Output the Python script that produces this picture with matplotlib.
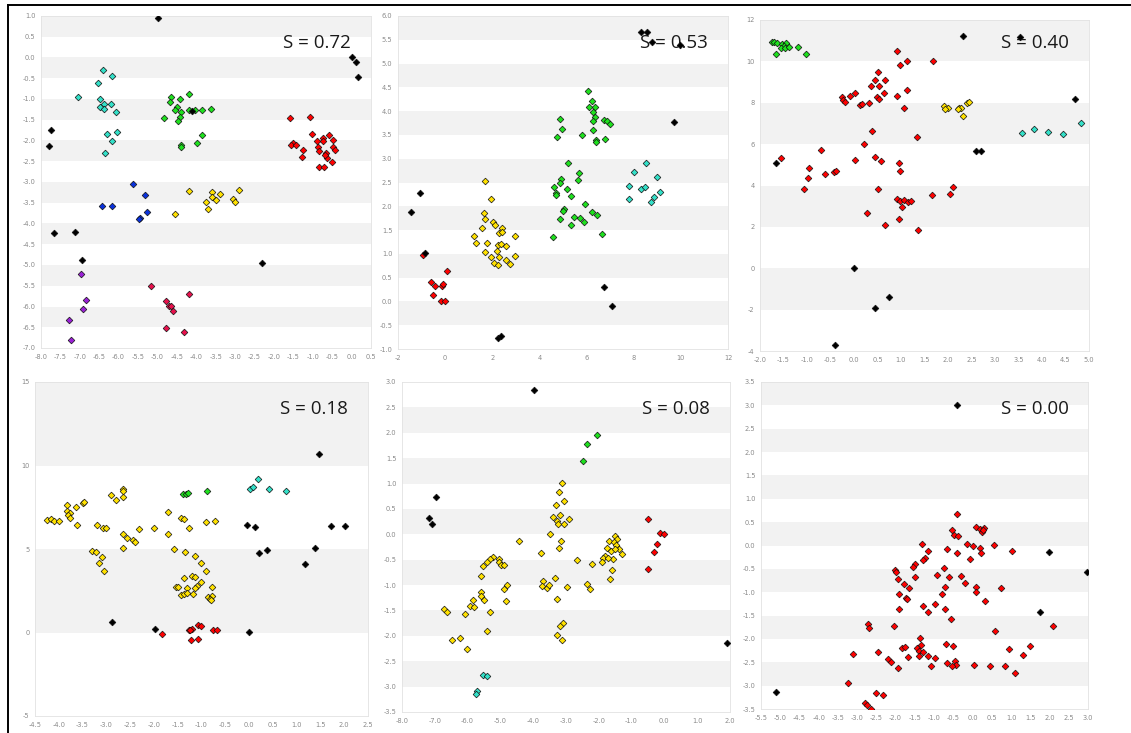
import matplotlib
matplotlib.use("Agg")
import matplotlib.pyplot as plt
from matplotlib.lines import Line2D
from matplotlib.ticker import FormatStrFormatter
import numpy as np

plt.rcParams['axes.unicode_minus'] = False

# couleurs des groupes
RED = '#ff0000'
GREEN = '#1ee01e'
CYAN = '#33e0c8'
YELLOW = '#ffe100'
BLUE = '#0a32dc'
PURPLE = '#9a20d6'
CRIMSON = '#e8104c'
BLACK = '#000000'

# ---- Panneau 1 : S = 0.72
p1_cyan = [(-6.41, -0.30), (-6.18, -0.44), (-6.52, -0.62), (-7.04, -0.95), (-6.49, -1.00),
           (-6.20, -1.11), (-6.39, -1.13), (-6.49, -1.19), (-6.39, -1.23), (-6.07, -1.31),
           (-6.03, -1.80), (-6.30, -1.84), (-6.16, -2.02), (-6.35, -2.30)]
p1_green = [(-4.18, -0.87), (-4.65, -0.96), (-4.43, -1.01), (-4.69, -1.07), (-4.49, -1.19),
            (-4.54, -1.27), (-4.40, -1.32), (-4.19, -1.27), (-4.04, -1.27), (-3.86, -1.27),
            (-3.62, -1.24), (-4.84, -1.45), (-4.42, -1.44), (-4.47, -1.52), (-3.85, -1.87),
            (-3.99, -2.05), (-4.39, -2.11), (-4.39, -2.15)]
p1_red = [(-1.58, -1.45), (-1.07, -1.44), (-1.01, -1.85), (-1.51, -2.06), (-1.55, -2.12),
          (-1.44, -2.11), (-1.26, -2.22), (-1.28, -2.39), (-0.89, -2.02), (-0.87, -2.15),
          (-0.83, -2.25), (-0.73, -1.93), (-0.73, -2.01), (-0.57, -1.87), (-0.47, -1.99),
          (-0.65, -2.30), (-0.63, -2.42), (-0.47, -2.16), (-0.43, -2.22), (-0.51, -2.52),
          (-0.85, -2.65), (-0.72, -2.63), (-0.69, -2.36)]
p1_blue = [(-5.62, -3.05), (-5.32, -3.32), (-6.44, -3.59), (-6.16, -3.58), (-5.28, -3.73),
           (-5.44, -3.86), (-5.48, -3.90)]
p1_yellow = [(-4.18, -3.21), (-2.89, -3.20), (-3.59, -3.25), (-3.40, -3.28), (-3.60, -3.37),
             (-3.50, -3.43), (-3.74, -3.48), (-3.05, -3.41), (-3.00, -3.49), (-3.71, -3.65),
             (-4.54, -3.76)]
p1_purple = [(-6.98, -5.22), (-6.85, -5.84), (-6.91, -6.05), (-7.27, -6.32), (-7.23, -6.81)]
p1_crimson = [(-5.17, -5.51), (-4.18, -5.70), (-4.79, -5.87), (-4.71, -5.99), (-4.64, -5.99),
              (-4.60, -6.12), (-4.78, -6.53), (-4.31, -6.62)]
p1_black = [(-4.98, 0.96), (0.01, 0.0), (0.11, -0.12), (0.16, -0.46), (-7.73, -1.75),
            (-7.79, -2.14), (-7.66, -4.22), (-7.13, -4.20), (-6.95, -4.88), (-2.32, -4.96),
            (-4.12, -1.29)]

# ---- Panneau 2 : S = 0.53
p2_red = [(-0.94, 0.98), (0.09, 0.63), (-0.59, 0.40), (-0.42, 0.32), (-0.15, 0.33),
          (-0.07, 0.36), (-0.53, 0.13), (-0.17, 0.01), (0.00, 0.00)]
p2_yellow = [(1.67, 2.54), (1.94, 2.16), (1.66, 1.85), (1.67, 1.74), (2.05, 1.68), (2.13, 1.60),
             (1.56, 1.55), (2.43, 1.55), (2.29, 1.44), (2.43, 1.46), (1.23, 1.37), (2.95, 1.37),
             (1.30, 1.22), (1.78, 1.23), (2.23, 1.19), (2.37, 1.21), (2.59, 1.16), (2.18, 1.07),
             (1.67, 1.03), (1.94, 0.93), (2.28, 0.94), (2.95, 0.95), (2.57, 0.87), (2.09, 0.80),
             (2.26, 0.77), (2.76, 0.78)]
p2_green = [(6.06, 4.42), (6.24, 4.22), (6.09, 4.08), (6.34, 4.08), (6.28, 3.98), (6.34, 3.88),
            (6.27, 3.79), (4.87, 3.83), (6.75, 3.81), (6.88, 3.80), (6.98, 3.72), (4.97, 3.62),
            (6.26, 3.61), (5.79, 3.49), (4.73, 3.46), (6.78, 3.41), (6.38, 3.39), (6.42, 3.35),
            (5.20, 2.90), (5.68, 2.69), (4.92, 2.57), (4.89, 2.50), (5.63, 2.55), (4.63, 2.41),
            (5.17, 2.37), (4.70, 2.27), (4.72, 2.24), (5.34, 2.22), (5.93, 2.05), (5.03, 1.94),
            (5.01, 1.91), (6.24, 1.89), (6.45, 1.81), (5.47, 1.77), (5.72, 1.75), (4.89, 1.73),
            (5.87, 1.66), (5.35, 1.61), (6.64, 1.41), (4.56, 1.35)]
p2_cyan = [(8.51, 2.92), (8.01, 2.73), (8.97, 2.62), (7.82, 2.43), (8.33, 2.36), (8.49, 2.41),
           (9.11, 2.29), (7.82, 2.16), (8.85, 2.19), (8.74, 2.10)]
p2_black = [(8.30, 5.66), (8.55, 5.66), (8.76, 5.46), (9.96, 5.39), (-1.07, 2.28), (-1.46, 1.87),
            (-0.87, 1.02), (9.70, 3.78), (6.74, 0.30), (7.09, -0.09), (2.26, -0.76), (2.37, -0.73)]

# ---- Panneau 3 : S = 0.40
p3_green = [(-1.75, 10.95), (-1.70, 10.92), (-1.63, 10.90), (-1.54, 10.84), (-1.45, 10.87),
            (-1.49, 10.76), (-1.56, 10.66), (-1.47, 10.65), (-1.38, 10.68), (-1.19, 10.71),
            (-1.65, 10.35), (-1.02, 10.35)]
p3_red = [(0.91, 10.50), (0.98, 9.82), (1.13, 10.0), (1.68, 10.03), (0.52, 9.50), (0.45, 9.08),
          (0.67, 9.08), (0.37, 8.81), (0.53, 8.81), (0.64, 8.47), (1.13, 8.61), (0.92, 8.31),
          (-0.25, 8.29), (-0.09, 8.34), (0.02, 8.45), (-0.23, 8.13), (-0.19, 8.02), (0.48, 8.29),
          (0.54, 8.16), (0.32, 7.98), (0.13, 7.89), (0.16, 7.95), (1.07, 7.74), (0.39, 6.63),
          (1.33, 6.35), (0.21, 6.00), (-0.70, 5.74), (-1.56, 5.31), (0.44, 5.39), (0.03, 5.23),
          (0.57, 5.19), (0.96, 5.11), (-0.95, 4.87), (-0.43, 4.66), (-0.39, 4.69), (-0.62, 4.58),
          (0.98, 4.69), (-0.97, 4.34), (-1.06, 3.85), (0.52, 3.84), (2.10, 3.94), (2.04, 3.61),
          (1.65, 3.56), (0.92, 3.35), (0.98, 3.23), (1.07, 3.32), (1.15, 3.18), (1.21, 3.27),
          (1.03, 2.97), (0.27, 2.65), (0.95, 2.37), (0.66, 2.08), (1.37, 1.84)]
p3_yellow = [(1.92, 7.84), (2.01, 7.74), (1.94, 7.68), (2.23, 7.73), (2.27, 7.77), (2.22, 7.68),
             (2.41, 7.98), (2.44, 8.02), (2.32, 7.35)]
p3_cyan = [(3.58, 6.55), (3.83, 6.71), (4.12, 6.60), (4.45, 6.47), (4.83, 7.00)]
p3_black = [(2.32, 11.21), (3.54, 11.19), (4.70, 8.19), (-1.67, 5.10), (2.60, 5.66), (2.71, 5.66),
            (-0.01, 0.02), (0.74, -1.37), (0.45, -1.92), (-0.40, -3.69)]

# ---- Panneau 4 : S = 0.18
p4_yellow = [(-4.25, 6.73), (-4.16, 6.81), (-4.11, 6.65), (-3.99, 6.69), (-3.83, 7.63), (-3.83, 7.25),
             (-3.76, 7.15), (-3.80, 7.01), (-3.76, 6.83), (-3.63, 7.53), (-3.50, 7.75), (-3.48, 7.81),
             (-3.61, 6.43), (-3.20, 6.43), (-3.08, 6.25), (-3.01, 6.25), (-2.91, 8.21), (-2.79, 7.91),
             (-2.66, 8.09), (-2.66, 8.59), (-2.66, 8.49), (-2.64, 5.91), (-2.57, 5.65), (-2.45, 5.51),
             (-2.40, 5.43), (-2.31, 6.17), (-2.64, 5.05), (-3.31, 4.89), (-3.22, 4.81), (-3.09, 4.53),
             (-3.16, 4.17), (-3.04, 3.69), (-2.00, 6.27), (-1.70, 7.21), (-1.71, 5.87), (-1.44, 6.83),
             (-1.36, 6.79), (-1.27, 6.25), (-0.91, 6.59), (-0.71, 6.67), (-1.58, 4.99), (-1.35, 4.83),
             (-1.13, 4.61), (-1.01, 4.17), (-0.90, 3.71), (-1.37, 3.29), (-1.20, 3.41), (-1.14, 3.35),
             (-1.02, 3.05), (-1.54, 2.73), (-1.50, 2.75), (-1.31, 2.65), (-1.10, 2.81), (-1.14, 2.65),
             (-0.78, 2.75), (-1.44, 2.25), (-1.36, 2.29), (-1.30, 2.37), (-1.18, 2.29), (-0.87, 2.15),
             (-0.77, 2.21), (-0.83, 2.01), (-0.80, 1.93)]
p4_cyan = [(0.18, 9.17), (0.01, 8.61), (0.08, 8.73), (0.41, 8.57), (0.77, 8.47)]
p4_green = [(-1.39, 8.27), (-1.33, 8.27), (-1.28, 8.33), (-0.89, 8.47)]
p4_red = [(-1.84, -0.08), (-1.27, 0.16), (-1.19, 0.22), (-1.07, 0.45), (-1.01, 0.41), (-0.75, 0.13),
          (-0.68, 0.13), (-1.22, -0.42), (-1.08, -0.38), (-1.24, 0.13)]
p4_black = [(1.48, 10.68), (-0.04, 6.43), (0.12, 6.29), (1.72, 6.35), (2.01, 6.35), (1.39, 5.03),
            (0.21, 4.75), (0.37, 4.93), (1.18, 4.09), (-2.89, 0.65), (-1.98, 0.21), (-0.01, 0.03)]

# ---- Panneau 5 : S = 0.08
p5_yellow = [(-3.13, 1.01), (-3.22, 0.84), (-3.07, 0.65), (-3.31, 0.58), (-3.19, 0.38), (-3.41, 0.34),
             (-3.28, 0.26), (-3.24, 0.20), (-3.05, 0.20), (-2.91, 0.30), (-3.49, 0.01), (-3.16, -0.13),
             (-3.22, -0.26), (-4.44, -0.14), (-3.77, -0.36), (-5.24, -0.44), (-5.33, -0.49), (-5.40, -0.54),
             (-5.53, -0.63), (-5.04, -0.49), (-5.03, -0.55), (-4.97, -0.60), (-4.90, -0.61), (-5.58, -0.83),
             (-4.79, -0.99), (-4.89, -1.07), (-5.58, -1.14), (-5.60, -1.21), (-5.50, -1.30), (-5.85, -1.30),
             (-5.94, -1.41), (-5.79, -1.43), (-4.84, -1.32), (-5.32, -1.53), (-6.73, -1.47), (-6.63, -1.53),
             (-6.07, -1.57), (-6.48, -2.08), (-6.23, -2.05), (-6.01, -2.26), (-5.40, -1.90), (-3.34, -0.86),
             (-3.69, -0.91), (-3.72, -1.01), (-3.57, -1.05), (-3.51, -0.99), (-2.97, -1.03), (-3.27, -1.28),
             (-3.09, -1.74), (-3.17, -1.80), (-3.28, -1.99), (-3.13, -2.09), (-2.66, -0.51), (-2.21, -0.59),
             (-2.37, -0.97), (-2.26, -1.08), (-1.50, -0.04), (-1.44, -0.10), (-1.70, -0.14), (-1.53, -0.15),
             (-1.48, -0.22), (-1.38, -0.28), (-1.76, -0.26), (-1.62, -0.32), (-1.50, -0.28), (-1.28, -0.39),
             (-1.81, -0.42), (-1.87, -0.47), (-1.91, -0.55), (-1.56, -0.49), (-1.61, -0.70), (-1.67, -0.88),
             (-1.73, -0.46)]
p5_green = [(-2.06, 1.96), (-2.35, 1.77), (-2.47, 1.44)]
p5_red = [(-0.51, 0.30), (-0.12, 0.02), (0.00, 0.00), (-0.24, -0.19), (-0.33, -0.34), (-0.49, -0.68)]
p5_cyan = [(-5.53, -2.77), (-5.41, -2.79), (-5.72, -3.09), (-5.75, -3.15)]
p5_black = [(-3.99, 2.84), (-6.96, 0.73), (-7.17, 0.32), (-7.09, 0.20), (1.92, -2.14)]

# ---- Panneau 6 : S = 0.00
p6_red = [(-0.40, 0.68), (-0.53, 0.34), (-0.48, 0.23), (-0.39, 0.20), (0.09, 0.40), (0.20, 0.36),
          (0.24, 0.29), (0.30, 0.37), (0.26, 0.33), (-0.14, 0.04), (0.00, -0.02), (0.55, 0.02),
          (0.19, -0.05), (0.21, -0.15), (1.03, -0.12), (-1.32, 0.04), (-1.15, -0.11), (-0.67, -0.08),
          (-0.41, -0.16), (-0.08, -0.29), (-1.25, -0.26), (-1.30, -0.30), (-1.49, -0.40), (-1.56, -0.45),
          (-2.01, -0.52), (-2.00, -0.56), (-0.74, -0.48), (-0.92, -0.63), (-1.50, -0.68), (-0.61, -0.67),
          (-0.31, -0.66), (-1.95, -0.72), (-0.19, -0.81), (-1.78, -0.83), (-1.66, -0.90), (-0.73, -0.89),
          (0.08, -0.89), (0.74, -0.91), (-1.74, -1.13), (-1.71, -1.14), (-1.91, -1.03), (-0.79, -1.03),
          (0.09, -1.00), (0.33, -1.19), (-0.99, -1.25), (-1.28, -1.30), (-0.71, -1.35), (-1.91, -1.36),
          (-1.16, -1.43), (-0.57, -1.57), (-2.73, -1.69), (-2.70, -1.77), (-2.05, -1.73), (0.57, -1.84),
          (2.09, -1.72), (-1.37, -1.99), (-1.35, -2.12), (-1.44, -2.19), (-1.39, -2.26), (-1.30, -2.27),
          (-1.40, -2.36), (-1.84, -2.19), (-1.75, -2.17), (-0.69, -2.10), (-0.50, -2.15), (0.94, -2.22),
          (1.48, -2.15), (1.32, -2.34), (-3.10, -2.33), (-2.46, -2.29), (-1.68, -2.39), (-1.16, -2.37),
          (-0.99, -2.41), (-2.20, -2.42), (-2.13, -2.49), (-0.67, -2.51), (-0.45, -2.47), (-0.43, -2.56),
          (-0.53, -2.59), (-1.07, -2.58), (-1.93, -2.63), (0.04, -2.55), (0.44, -2.58), (0.85, -2.58),
          (1.09, -2.73), (-3.24, -2.94), (-2.50, -3.16), (-2.33, -3.20), (-2.79, -3.38), (-2.74, -3.41),
          (-2.65, -3.51)]
p6_black = [(-0.40, 3.00), (1.98, -0.13), (2.97, -0.56), (1.76, -1.43), (-5.12, -3.14)]

labels = ["S = 0.72", "S = 0.53", "S = 0.40", "S = 0.18", "S = 0.08", "S = 0.00"]

W, H = 1131, 733
fig = plt.figure(figsize=(W / 100, H / 100), dpi=100)


def panel(box, xlim, ylim, xstep, ystep, xfmt, yfmt, series, label, ty):
    l, t, r, b = box
    ax = fig.add_axes([l / W, 1 - b / H, (r - l) / W, (b - t) / H])
    # bandes alternées (blanc en bas)
    edges = np.arange(ylim[0], ylim[1] + ystep / 2, ystep)
    for i in range(len(edges) - 1):
        if i % 2 == 1:
            ax.axhspan(edges[i], edges[i + 1], color='#f2f2f2', lw=0, zorder=0)
    for color, pts in series:
        xs = [p[0] for p in pts]
        ys = [p[1] for p in pts]
        ax.plot(xs, ys, 'D', ms=3.4, mfc=color, mec='#111111', mew=0.5, ls='none', zorder=3)
    ax.set_xlim(xlim)
    ax.set_ylim(ylim)
    ax.set_xticks(np.arange(xlim[0], xlim[1] + xstep / 2, xstep))
    ax.set_yticks(edges)
    ax.xaxis.set_major_formatter(FormatStrFormatter(xfmt))
    ax.yaxis.set_major_formatter(FormatStrFormatter(yfmt))
    ax.tick_params(length=0, labelsize=4.8, labelcolor='#8a8a8a', pad=4)
    for s in ax.spines.values():
        s.set_color('#e2e2e2')
        s.set_linewidth(0.6)
    ax.text(0.94, ty, label, transform=ax.transAxes, ha='right', va='baseline',
            fontsize=13.5, family='Open Sans', color='#1a1a1a', zorder=2)
    return ax


panel((41, 16, 371, 348), (-8, 0.5), (-7, 1), 0.5, 0.5, '%.1f', '%.1f',
      [(CYAN, p1_cyan), (GREEN, p1_green), (RED, p1_red), (BLUE, p1_blue), (YELLOW, p1_yellow),
       (PURPLE, p1_purple), (CRIMSON, p1_crimson), (BLACK, p1_black)], labels[0], 0.903)
panel((398, 16, 728, 349), (-2, 12), (-1, 6), 2, 0.5, '%d', '%.1f',
      [(RED, p2_red), (YELLOW, p2_yellow), (GREEN, p2_green), (CYAN, p2_cyan), (BLACK, p2_black)],
      labels[1], 0.904)
panel((760, 20, 1089, 351), (-2, 5), (-4, 12), 0.5, 2, '%.1f', '%d',
      [(GREEN, p3_green), (RED, p3_red), (YELLOW, p3_yellow), (CYAN, p3_cyan), (BLACK, p3_black)],
      labels[2], 0.914)
panel((35, 382, 368, 716), (-4.5, 2.5), (-5, 15), 0.5, 5, '%.1f', '%d',
      [(YELLOW, p4_yellow), (CYAN, p4_cyan), (GREEN, p4_green), (RED, p4_red), (BLACK, p4_black)],
      labels[3], 0.903)
panel((402, 382, 730, 712), (-8, 2), (-3.5, 3), 1, 0.5, '%.1f', '%.1f',
      [(YELLOW, p5_yellow), (GREEN, p5_green), (RED, p5_red), (CYAN, p5_cyan), (BLACK, p5_black)],
      labels[4], 0.903)
panel((761, 382, 1088, 709), (-5.5, 3), (-3.5, 3.5), 0.5, 0.5, '%.1f', '%.1f',
      [(RED, p6_red), (BLACK, p6_black)], labels[5], 0.902)

# cadre noir (haut et gauche)
fig.add_artist(Line2D([8 / W, 8 / W], [0, 1 - 5 / H], color='black', lw=1.4))
fig.add_artist(Line2D([8 / W, 1], [1 - 5 / H, 1 - 5 / H], color='black', lw=1.4))

fig.savefig("out.png", dpi=100)
